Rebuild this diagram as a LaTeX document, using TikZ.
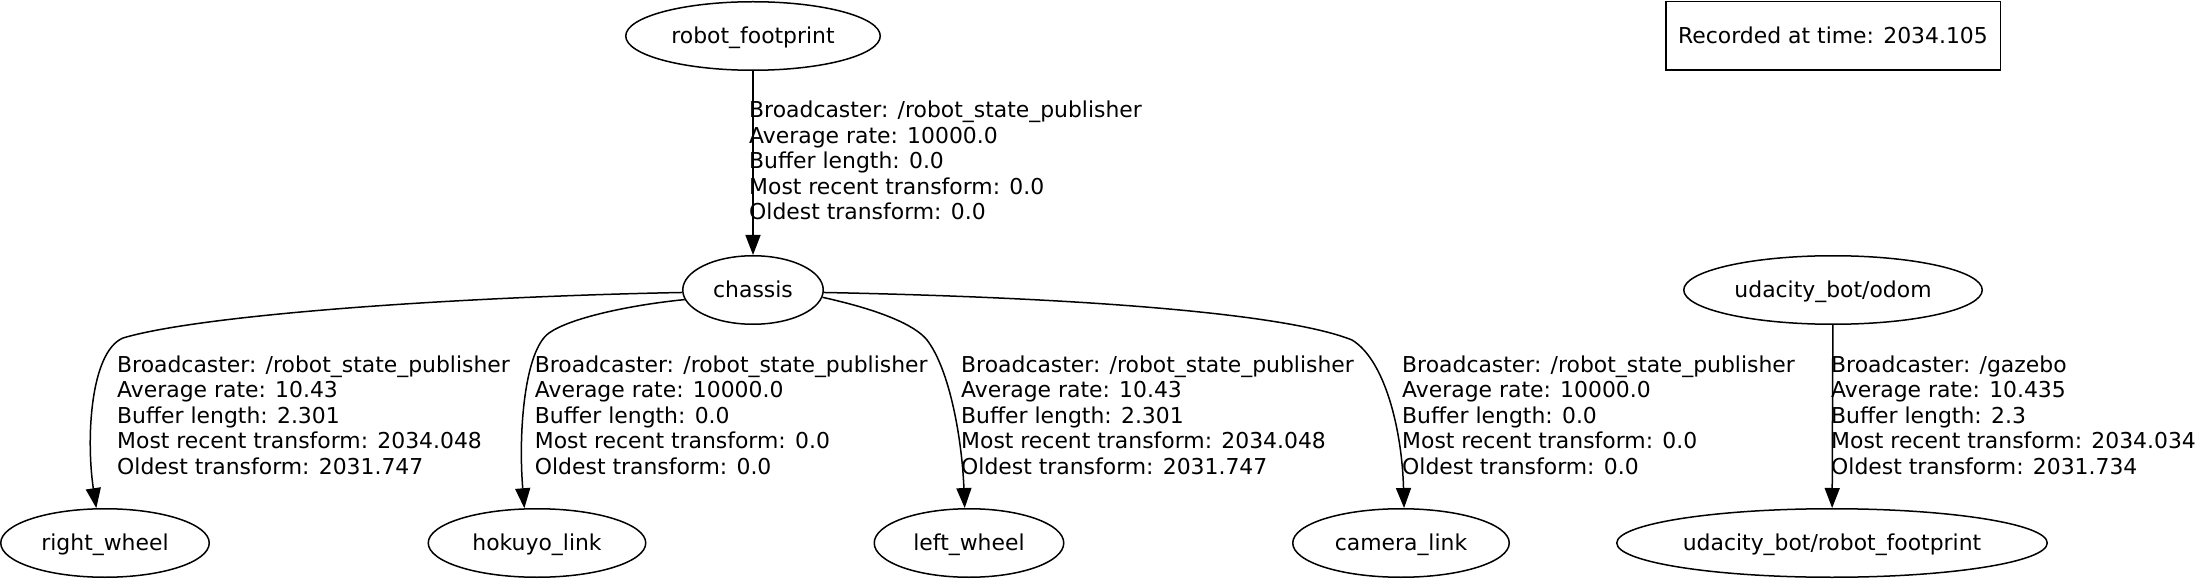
\documentclass[tikz,border=0pt]{standalone}
\usepackage{fontspec}
\setmainfont{DejaVu Sans}
\usetikzlibrary{shapes.geometric,arrows.meta}
\begin{document}
\begin{tikzpicture}[x=1pt,y=-1pt,
  every node/.style={font=\fontsize{21.9}{25.5}\selectfont},
  frame/.style={draw, line width=1.5pt, ellipse, inner sep=0pt, minimum height=68.5pt, text height=16.6pt, text depth=1.9pt},
  stamp/.style={draw, line width=1.5pt, rectangle, inner sep=0pt, text height=16.6pt, text depth=1.9pt},
  lbl/.style={anchor=north west, align=left, inner sep=0pt},
  link/.style={line width=1.5pt, -{Triangle[length=20pt,width=15pt]}}]
\fill[white] (0,0) rectangle (2196,580);
\useasboundingbox (0,0) rectangle (2196,580);

\node[frame, minimum width=254.5pt] (rf) at (753,36) {\makebox[0pt]{robot\_footprint}};
\node[frame, minimum width=140.5pt] (ch) at (753,290) {\makebox[0pt]{chassis}};
\node[frame, minimum width=208.5pt] (rw) at (105,543) {\makebox[0pt]{right\_wheel}};
\node[frame, minimum width=217.5pt] (hk) at (537,543) {\makebox[0pt]{hokuyo\_link}};
\node[frame, minimum width=189.5pt] (lw) at (969,543) {\makebox[0pt]{left\_wheel}};
\node[frame, minimum width=216.5pt] (cl) at (1401,543) {\makebox[0pt]{camera\_link}};
\node[frame, minimum width=298.5pt] (od) at (1833,290) {\makebox[0pt]{udacity\_bot/odom}};
\node[frame, minimum width=430.5pt] (ub) at (1832,543) {\makebox[0pt]{udacity\_bot/robot\_footprint}};
\node[stamp, minimum width=334.5pt, minimum height=68.5pt] (rec) at (1833,36) {Recorded at time: 2034.105};

\draw[link] (rf) -- (ch);
\draw[link] (ch.182) .. controls (450,297) and (200,315) .. (123,338) .. controls (90,352) and (86,440) .. (rw.104);
\draw[link] (ch.188) .. controls (630,305) and (570,318) .. (549,333) .. controls (525,350) and (518,430) .. (hk.110);
\draw[link] (ch.-6) .. controls (880,310) and (915,325) .. (927,340) .. controls (950,370) and (962,440) .. (lw.97);
\draw[link] (ch.-2) .. controls (1100,298) and (1290,315) .. (1352,340) .. controls (1385,360) and (1402,430) .. (cl.85);
\draw[link] (od) -- (ub);

\node[lbl] (l0) at (749,100.8) {Broadcaster: /robot\_state\_publisher\\Average rate: 10000.0\\Buffer length: 0.0\\Most recent transform: 0.0\\Oldest transform: 0.0};
\node[lbl] (l1) at (117,355.6) {Broadcaster: /robot\_state\_publisher\\Average rate: 10.43\\Buffer length: 2.301\\Most recent transform: 2034.048\\Oldest transform: 2031.747};
\node[lbl] (l2) at (534.7,355.6) {Broadcaster: /robot\_state\_publisher\\Average rate: 10000.0\\Buffer length: 0.0\\Most recent transform: 0.0\\Oldest transform: 0.0};
\node[lbl] (l3) at (961,355.6) {Broadcaster: /robot\_state\_publisher\\Average rate: 10.43\\Buffer length: 2.301\\Most recent transform: 2034.048\\Oldest transform: 2031.747};
\node[lbl] (l4) at (1402,355.6) {Broadcaster: /robot\_state\_publisher\\Average rate: 10000.0\\Buffer length: 0.0\\Most recent transform: 0.0\\Oldest transform: 0.0};
\node[lbl] (l5) at (1831,355.6) {Broadcaster: /gazebo\\Average rate: 10.435\\Buffer length: 2.3\\Most recent transform: 2034.034\\Oldest transform: 2031.734};
\end{tikzpicture}
\end{document}
